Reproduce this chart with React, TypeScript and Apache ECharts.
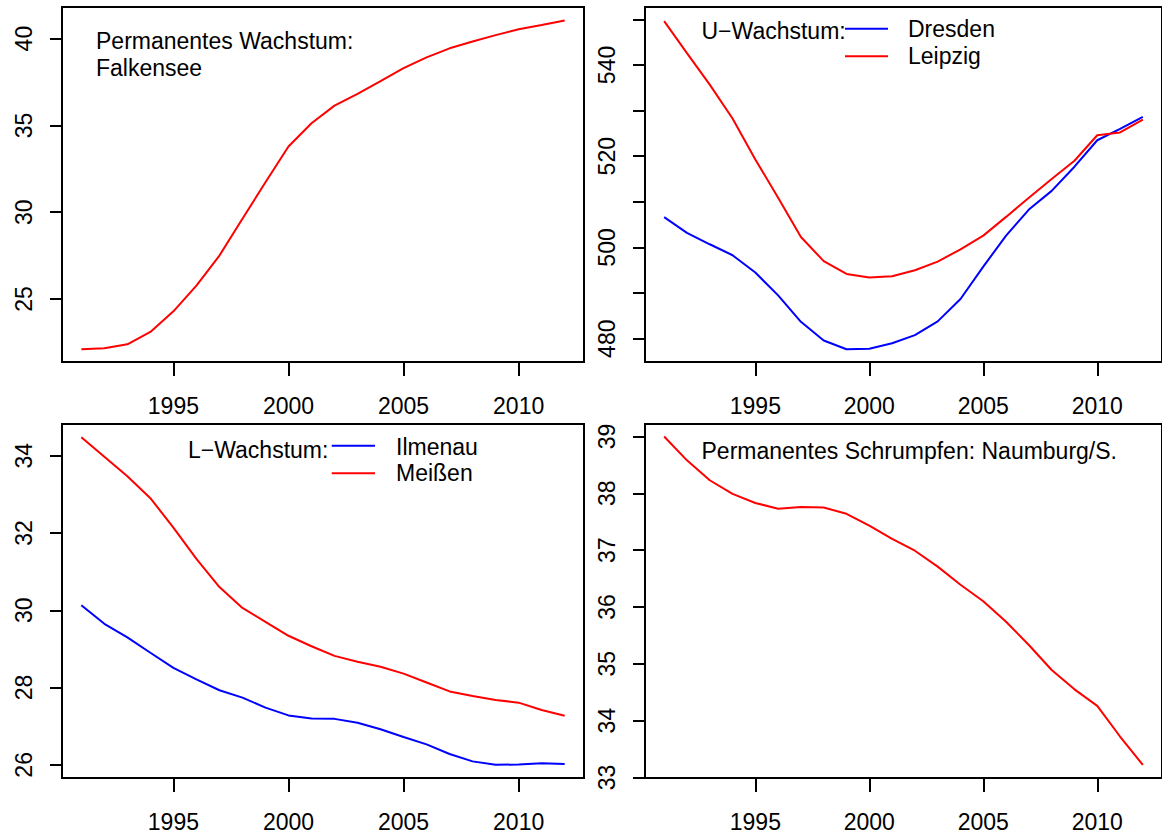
import React, { useEffect, useRef } from "react";
import * as echarts from "echarts";

const years = [1991, 1992, 1993, 1994, 1995, 1996, 1997, 1998, 1999, 2000, 2001, 2002, 2003, 2004, 2005, 2006, 2007, 2008, 2009, 2010, 2011, 2012];

const falkensee = [22.1, 22.16, 22.39, 23.1, 24.29, 25.77, 27.5, 29.62, 31.72, 33.78, 35.12, 36.14, 36.82, 37.55, 38.3, 38.92, 39.44, 39.83, 40.2, 40.54, 40.78, 41.04];

const dresden = [506.65, 503.2, 500.7, 498.3, 494.5, 489.5, 483.7, 479.6, 477.7, 477.8, 479.0, 480.8, 483.8, 488.7, 495.8, 502.6, 508.3, 512.4, 517.7, 523.5, 526.0, 528.6];
const leipzig = [549.6, 542.6, 535.7, 528.25, 519.3, 510.9, 502.3, 497.0, 494.2, 493.4, 493.7, 495.0, 496.9, 499.6, 502.6, 506.7, 510.9, 515.0, 519.0, 524.6, 525.2, 528.0];

const ilmenau = [30.13, 29.65, 29.3, 28.9, 28.51, 28.21, 27.93, 27.74, 27.48, 27.28, 27.2, 27.19, 27.09, 26.92, 26.72, 26.53, 26.28, 26.09, 26.0, 26.01, 26.04, 26.02];
const meissen = [34.48, 33.97, 33.47, 32.9, 32.14, 31.33, 30.6, 30.06, 29.7, 29.34, 29.07, 28.82, 28.67, 28.54, 28.36, 28.13, 27.9, 27.78, 27.68, 27.61, 27.42, 27.27];

const naumburg = [39.0, 38.58, 38.23, 37.99, 37.83, 37.73, 37.76, 37.75, 37.64, 37.43, 37.2, 36.99, 36.71, 36.39, 36.1, 35.74, 35.33, 34.89, 34.55, 34.26, 33.72, 33.22];

const xTicks = [1995, 2000, 2005, 2010];
const yTicksTL = [25, 30, 35, 40];
const yTicksTR = [480, 490, 500, 510, 520, 530, 540, 550];
const yLabelsTR = [480, 500, 520, 540];
const yTicksBL = [26, 28, 30, 32, 34];
const yTicksBR = [33, 34, 35, 36, 37, 38, 39];

const FONT = "'Liberation Sans', Arial, Helvetica, sans-serif";
const FS = 23;
const RED = "#ff0000";
const BLUE = "#0000ff";

function pairs(vals: number[]) {
  return years.map((y, i) => [y, vals[i]]);
}

function xAxis(gridIndex: number) {
  return {
    type: "value",
    gridIndex,
    min: 1990.16,
    max: 2012.84,
    axisLine: { show: true, lineStyle: { color: "#000", width: 2 } },
    axisTick: { show: true, customValues: xTicks, length: 14, lineStyle: { color: "#000", width: 2 } },
    axisLabel: {
      show: true,
      customValues: xTicks,
      fontSize: FS,
      color: "#000",
      fontFamily: FONT,
      margin: 32,
      formatter: (v: number) => String(v),
    },
    splitLine: { show: false },
  };
}

function yAxis(gridIndex: number, min: number, max: number, ticks: number[], labels: number[]) {
  return {
    type: "value",
    gridIndex,
    min,
    max,
    axisLine: { show: true, lineStyle: { color: "#000", width: 2 } },
    axisTick: { show: true, customValues: ticks, length: 12, lineStyle: { color: "#000", width: 2 } },
    axisLabel: {
      show: true,
      customValues: labels,
      rotate: 90,
      fontSize: FS,
      color: "#000",
      fontFamily: FONT,
      margin: 27,
      formatter: (v: number) => String(v),
    },
    splitLine: { show: false },
  };
}

function line(name: string, xi: number, vals: number[], color: string) {
  return {
    name,
    type: "line",
    xAxisIndex: xi,
    yAxisIndex: xi,
    data: pairs(vals),
    showSymbol: false,
    symbol: "none",
    lineStyle: { color, width: 2 },
    itemStyle: { color },
  };
}

function txt(text: string, x: number, y: number) {
  return {
    type: "text",
    x,
    y,
    style: { text, fontSize: FS, fontFamily: FONT, fill: "#000", align: "left", verticalAlign: "middle" },
  };
}

function seg(x1: number, x2: number, y: number, color: string) {
  return { type: "line", shape: { x1, y1: y, x2, y2: y }, style: { stroke: color, lineWidth: 2 } };
}

export default function App() {
  const ref = useRef<HTMLDivElement>(null);
  useEffect(() => {
    if (!ref.current) return;
    const chart = echarts.init(ref.current, null, { renderer: "svg" });
    const gridStyle = { show: true, borderColor: "#000", borderWidth: 2, backgroundColor: "transparent" };
    chart.setOption({
      animation: false,
      backgroundColor: "#fff",
      grid: [
        { left: 62, top: 7, width: 522, height: 355, ...gridStyle },
        { left: 645, top: 7, width: 521, height: 355, ...gridStyle },
        { left: 62, top: 424, width: 522, height: 355, ...gridStyle },
        { left: 645, top: 424, width: 521, height: 355, ...gridStyle },
      ],
      xAxis: [xAxis(0), xAxis(1), xAxis(2), xAxis(3)],
      yAxis: [
        yAxis(0, 21.37, 41.82, yTicksTL, yTicksTL),
        yAxis(1, 474.9, 552.7, yTicksTR, yLabelsTR),
        yAxis(2, 25.66, 34.82, yTicksBL, yTicksBL),
        yAxis(3, 32.99, 39.22, yTicksBR, yTicksBR),
      ],
      series: [
        line("Falkensee", 0, falkensee, RED),
        line("Dresden", 1, dresden, BLUE),
        line("Leipzig", 1, leipzig, RED),
        line("Ilmenau", 2, ilmenau, BLUE),
        line("Meißen", 2, meissen, RED),
        line("Naumburg/S.", 3, naumburg, RED),
      ],
      graphic: [
        txt("Permanentes Wachstum:", 96, 40.5),
        txt("Falkensee", 96, 67.5),
        txt("U\u2212Wachstum:", 701.5, 31),
        seg(845, 888, 28.7, BLUE),
        seg(845, 888, 56.3, RED),
        txt("Dresden", 908, 29),
        txt("Leipzig", 908, 56),
        txt("L\u2212Wachstum:", 188, 449.5),
        seg(331.7, 375, 445.7, BLUE),
        seg(331.7, 375, 473.3, RED),
        txt("Ilmenau", 396, 447),
        txt("Meißen", 396, 473),
        txt("Permanentes Schrumpfen: Naumburg/S.", 701.5, 450.5),
      ],
    });
    return () => chart.dispose();
  }, []);
  return (
    <div
      ref={ref}
      style={{ position: "fixed", left: 0, top: 0, width: 1162, height: 833, background: "#fff" }}
    />
  );
}
